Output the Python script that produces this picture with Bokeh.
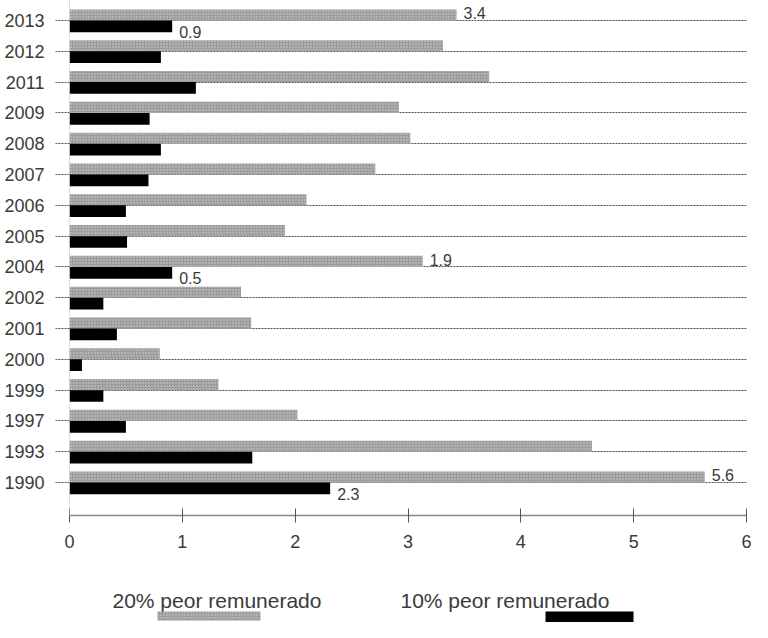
from bokeh.plotting import figure
from bokeh.models import ColumnDataSource, FixedTicker, Range1d
from bokeh.layouts import column
from bokeh.embed import file_html
from bokeh.resources import INLINE
from bokeh.core.properties import value

years = ["1990", "1993", "1997", "1999", "2000", "2001", "2002", "2004",
         "2005", "2006", "2007", "2008", "2009", "2011", "2012", "2013"]
peor20 = [5.63, 4.63, 2.02, 1.32, 0.80, 1.61, 1.52, 3.13,
          1.91, 2.10, 2.71, 3.02, 2.92, 3.72, 3.31, 3.43]
peor10 = [2.31, 1.62, 0.50, 0.30, 0.11, 0.42, 0.30, 0.91,
          0.51, 0.50, 0.70, 0.81, 0.71, 1.12, 0.81, 0.91]
label20 = ["5.6", "", "", "", "", "", "", "1.9", "", "", "", "", "", "", "", "3.4"]
label10 = ["2.3", "", "", "", "", "", "", "0.5", "", "", "", "", "", "", "", "0.9"]
x_ticks = [0, 1, 2, 3, 4, 5, 6]
legend_names = ["20% peor remunerado", "10% peor remunerado"]

FONT = "Liberation Sans"
GRAY = "#9c9c9c"
HATCH = "#d2d2d2"
TXT = "#3a3a3a"
LEFT, RIGHT, W = 69, 6, 752

pos = list(range(len(years)))
src = ColumnDataSource(dict(
    y20=[i + 0.18 for i in pos],
    y10=[i - 0.19 for i in pos],
    ly20=[i + 0.23 for i in pos],
    ly10=[i - 0.37 for i in pos],
    v20=peor20, v10=peor10, l20=label20, l10=label10,
))

p = figure(width=W, height=562, x_range=Range1d(0, 6), y_range=Range1d(-1.07, 15.65),
           output_backend="svg", toolbar_location=None,
           min_border_left=LEFT, min_border_right=RIGHT, min_border_top=0, min_border_bottom=47)
p.outline_line_color = None
p.background_fill_color = "white"

p.hbar(y="y20", left=0, right="v20", height=0.36, source=src,
       fill_color=GRAY, line_color=None,
       hatch_pattern=".", hatch_color=HATCH, hatch_scale=3, hatch_weight=1)
p.hbar(y="y10", left=0, right="v10", height=0.38, source=src,
       fill_color="black", line_color=None)

p.text(x="v20", y="ly20", text="l20", source=src, x_offset=7,
       text_align="left", text_baseline="middle",
       text_font=value(FONT), text_font_size="16px", text_color=TXT)
p.text(x="v10", y="ly10", text="l10", source=src, x_offset=7,
       text_align="left", text_baseline="middle",
       text_font=value(FONT), text_font_size="16px", text_color=TXT)

# y axis
yt = FixedTicker(ticks=pos)
p.yaxis.ticker = yt
p.yaxis.major_label_overrides = {i: y for i, y in enumerate(years)}
p.yaxis.axis_line_color = "#bbbbbb"
p.yaxis.axis_line_dash = "1 1"
p.yaxis.major_tick_in = 0
p.yaxis.major_tick_out = 14
p.yaxis.major_tick_line_color = "#555555"
p.yaxis.major_tick_line_dash = "2 1"
p.yaxis.minor_tick_line_color = None
p.yaxis.major_label_standoff = 11
p.yaxis.major_label_text_font = FONT
p.yaxis.major_label_text_font_size = "18px"
p.yaxis.major_label_text_color = TXT

# grid
p.xgrid.grid_line_color = None
p.ygrid.ticker = yt
p.ygrid.grid_line_color = "#4a4a4a"
p.ygrid.grid_line_dash = "2 1"
p.ygrid.grid_line_width = 1

# x axis
p.xaxis.ticker = FixedTicker(ticks=x_ticks)
p.xaxis.axis_line_color = "#888888"
p.xaxis.axis_line_width = 1.5
p.xaxis.major_tick_in = 7
p.xaxis.major_tick_out = 7
p.xaxis.major_tick_line_color = "#555555"
p.xaxis.minor_tick_line_color = None
p.xaxis.major_label_standoff = 12
p.xaxis.major_label_text_font = FONT
p.xaxis.major_label_text_font_size = "18px"
p.xaxis.major_label_text_color = TXT

# legend strip (x range in page pixels, frame aligned with the main plot)
lg = figure(width=W, height=60, x_range=Range1d(LEFT, W - RIGHT), y_range=Range1d(0, 60),
            output_backend="svg", toolbar_location=None,
            min_border_left=LEFT, min_border_right=RIGHT, min_border_top=0, min_border_bottom=0)
lg.axis.visible = False
lg.grid.visible = False
lg.outline_line_color = None
lg.text(x=[112, 400], y=[22, 22], text=legend_names,
        text_align="left", text_baseline="middle",
        text_font=value(FONT), text_font_size="21px", text_color=TXT)
lg.quad(left=[157], right=[260], bottom=[2], top=[11], fill_color=GRAY, line_color=None,
        hatch_pattern=".", hatch_color=HATCH, hatch_scale=3, hatch_weight=1)
lg.quad(left=[545], right=[633], bottom=[0], top=[11], fill_color="black", line_color=None)

layout = column(p, lg, spacing=0)
open("out.html", "w").write(file_html(layout, INLINE))
